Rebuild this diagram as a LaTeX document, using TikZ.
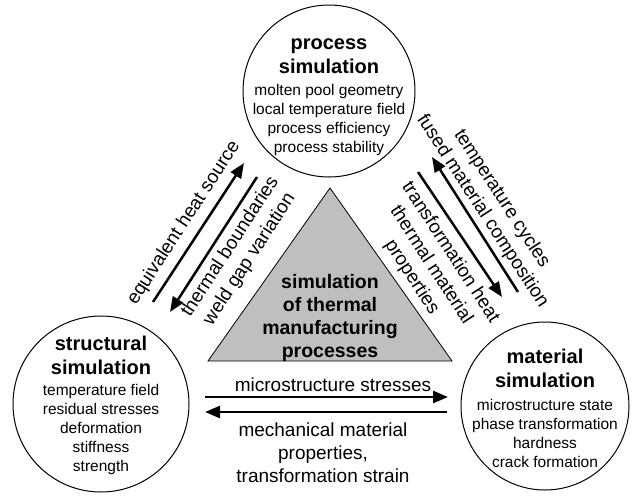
\documentclass[tikz,border=0pt]{standalone}
\usepackage{fontspec}
\setmainfont{Liberation Sans}
\usetikzlibrary{arrows.meta}
\begin{document}
\begin{tikzpicture}[x=1pt,y=-1pt,
  circ/.style={draw, circle, line width=1pt, inner sep=0pt},
  ttl/.style={font=\fontsize{20}{24}\selectfont\bfseries, align=center, inner sep=0pt},
  body/.style={font=\fontsize{15.5}{19}\selectfont, align=center, inner sep=0pt},
  lab/.style={font=\fontsize{19}{23}\selectfont, align=center, inner sep=0pt},
  arr/.style={line width=2.5pt, -{Triangle[length=15pt,width=12pt]}}]
\useasboundingbox (0,0) rectangle (640,496);
\fill[white] (0,0) rectangle (640,496);

% central triangle
\draw[fill=black!25, line width=0.8pt] (330,188) -- (208,361) -- (452,361) -- cycle;
\node[ttl, font=\fontsize{19.5}{23}\selectfont\bfseries] (tri) at (330,318) {simulation\\of thermal\\manufacturing\\processes};

% circles
\node[circ, minimum size=172pt] (proc) at (329,91) {};
\node[ttl] (proct) at (329,56) {process\\simulation};
\node[body] (procb) at (329,120) {molten pool geometry\\local temperature field\\process efficiency\\process stability};

\node[circ, minimum size=176pt] (struc) at (101,404) {};
\node[ttl] (struct) at (101,355) {structural\\simulation};
\node[body] (strucb) at (101,429) {temperature field\\residual stresses\\deformation\\stiffness\\strength};

\node[circ, minimum size=168pt] (mat) at (545,406) {};
\node[ttl] (matt) at (545,368) {material\\simulation};
\node[body] (matb) at (545,433) {microstructure state\\phase transformation\\hardness\\crack formation};

% left arrows
\coordinate (l1s) at (153,302); \coordinate (l1e) at (244,163);
\coordinate (l2s) at (257,177); \coordinate (l2e) at (170,312);
\draw[arr] (l1s) -- (l1e);
\draw[arr] (l2s) -- (l2e);
\node[lab, rotate=57] (lab1) at (184,223) {equivalent heat source};
\node[lab, rotate=57] (lab2) at (240,253) {thermal boundaries\\weld gap variation};

% right arrows
\coordinate (r1s) at (518,292); \coordinate (r1e) at (432,157);
\coordinate (r2s) at (418,172); \coordinate (r2e) at (502,297);
\draw[arr] (r1s) -- (r1e);
\draw[arr] (r2s) -- (r2e);
\node[lab, rotate=-57] (lab3) at (492,205) {temperature cycles\\fused material composition};
\node[lab, rotate=-57] (lab4) at (431,265) {transformation heat\\thermal material\\properties};

% bottom arrows
\coordinate (b1s) at (205,397); \coordinate (b1e) at (448,397);
\coordinate (b2s) at (447,412); \coordinate (b2e) at (205,412);
\draw[arr] (b1s) -- (b1e);
\draw[arr] (b2s) -- (b2e);
\node[lab] (lab5) at (333,385) {microstructure stresses};
\node[lab] (lab6) at (323,453) {mechanical material\\properties,\\transformation strain};
\end{tikzpicture}
\end{document}
